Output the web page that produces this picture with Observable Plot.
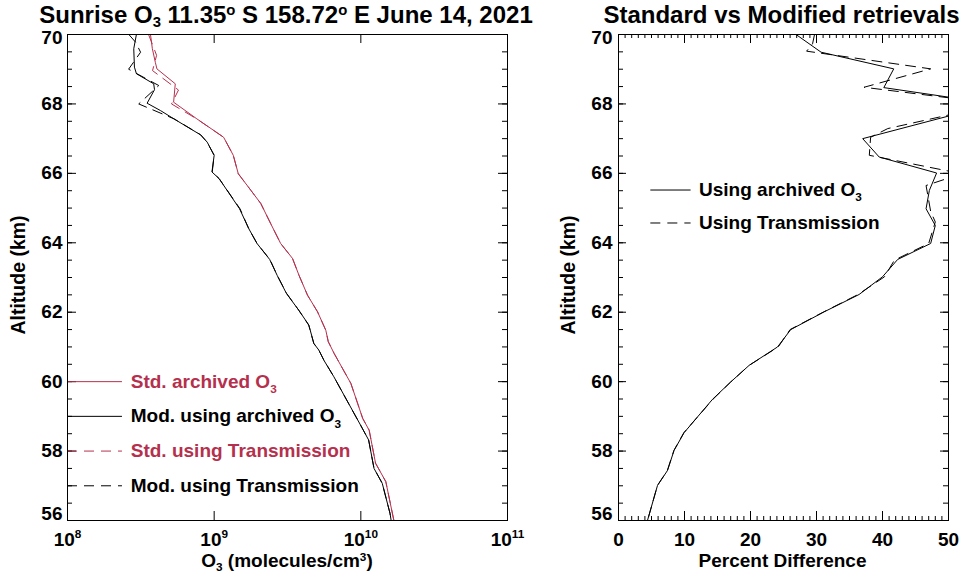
<!DOCTYPE html>
<html><head><meta charset="utf-8">
<script src="https://cdn.jsdelivr.net/npm/d3@7"></script>
<script src="https://cdn.jsdelivr.net/npm/@observablehq/plot@0.6"></script>
<style>
html,body{margin:0;padding:0;background:#fff;}
#wrap{position:relative;width:963px;height:573px;overflow:hidden;font-family:"Liberation Sans",Arial,Helvetica,sans-serif;font-weight:bold;color:#000;}
.abs{position:absolute;white-space:nowrap;line-height:1;}
.title{font-size:24px;transform:translateX(-50%);top:3px;}
.xlab{font-size:19px;transform:translateX(-50%);top:551px;}
.ylab{font-size:19.5px;transform:translate(-50%,-50%) rotate(-90deg);}
sub,sup{font-size:0.62em;line-height:0;}
sub{vertical-align:-0.3em;} sup{vertical-align:0.55em;}
#left,#right{position:absolute;top:0;}
#left{left:0}#right{left:540px}
</style></head>
<body><div id="wrap">
<div id="left"></div><div id="right"></div>
<div class="abs title" style="left:286px">Sunrise O<sub>3</sub> 11.35<sup>o</sup> S 158.72<sup>o</sup> E June 14, 2021</div>
<div class="abs title" style="left:781.5px">Standard vs Modified retrievals</div>
<div class="abs xlab" style="left:287px">O<sub>3</sub> (molecules/cm<sup>3</sup>)</div>
<div class="abs xlab" style="left:782.5px">Percent Difference</div>
<div class="abs ylab" style="left:18.5px;top:275px">Altitude (km)</div>
<div class="abs ylab" style="left:568.5px;top:275px">Altitude (km)</div>
</div>
<script>
// ---------- DATA ----------
// Left panel: O3 number density (molecules/cm^3) vs altitude (km)
const stdArchAlt = [70.0, 69.59, 69.2, 69.01, 68.58, 68.05, 67.57, 67.04, 66.52, 65.99, 65.51, 65.13, 64.55, 63.98, 63.55, 63.06, 62.49, 62.01, 61.48, 61.15, 60.81, 59.95, 58.94, 58.6, 57.65, 57.12, 56.0];
const stdArchO3  = [3.68e8, 3.79e8, 3.97e8, 4.07e8, 5.43e8, 5.29e8, 7.62e8, 1.16e9, 1.35e9, 1.46e9, 1.78e9, 2.08e9, 2.43e9, 2.84e9, 3.42e9, 3.79e9, 4.33e9, 5.07e9, 5.77e9, 6.0e9, 6.58e9, 8.55e9, 1.03e10, 1.14e10, 1.26e10, 1.48e10, 1.68e10];

const modArchAlt = [70.0, 69.59, 69.06, 68.87, 68.58, 68.41, 68.02, 67.81, 67.57, 67.11, 66.9, 66.52, 66.04, 65.85, 64.98, 64.41, 63.98, 63.52, 63.06, 62.54, 62.06, 61.63, 61.1, 60.91, 60.62, 60.14, 59.27, 58.75, 58.32, 57.5, 57.07, 56.21, 56.0];
const modArchO3  = [2.95e8, 2.83e8, 2.86e8, 2.95e8, 3.87e8, 3.92e8, 3.49e8, 4.3e8, 5.31e8, 8.07e8, 8.96e8, 1.0e9, 9.66e8, 1.08e9, 1.49e9, 1.72e9, 1.96e9, 2.39e9, 2.69e9, 3.11e9, 3.77e9, 4.42e9, 4.78e9, 5.17e9, 5.59e9, 6.55e9, 8.51e9, 9.95e9, 1.13e10, 1.23e10, 1.4e10, 1.58e10, 1.61e10];

const stdTransAlt = [70.0, 69.4, 68.96, 68.4, 68.0, 67.57, 67.04, 66.52, 65.99, 65.51, 65.13, 64.55, 63.98, 63.55, 63.06, 62.49, 62.01, 61.48, 61.15, 60.81, 59.95, 58.94, 58.6, 57.65, 57.12, 56.0];
const stdTransO3  = [3.57e8, 4.05e8, 3.8e8, 5.71e8, 5.12e8, 7.6e8, 1.16e9, 1.35e9, 1.46e9, 1.78e9, 2.08e9, 2.43e9, 2.84e9, 3.42e9, 3.79e9, 4.33e9, 5.07e9, 5.77e9, 6.0e9, 6.58e9, 8.55e9, 1.03e10, 1.14e10, 1.26e10, 1.48e10, 1.68e10];

const modTransAlt = [70.0, 69.78, 69.49, 69.0, 68.53, 68.0, 67.57, 67.11, 66.9, 66.52, 66.04, 65.85, 64.98, 64.41, 63.98, 63.52, 63.06, 62.54, 62.06, 61.63, 61.1, 60.91, 60.62, 60.14, 59.27, 58.75, 58.32, 57.5, 57.07, 56.21, 56.0];
const modTransO3  = [2.62e8, 2.91e8, 3.15e8, 2.61e8, 4.19e8, 3.06e8, 5.33e8, 8.1e8, 8.94e8, 1.0e9, 9.7e8, 1.08e9, 1.5e9, 1.72e9, 1.96e9, 2.4e9, 2.69e9, 3.12e9, 3.77e9, 4.41e9, 4.78e9, 5.17e9, 5.6e9, 6.55e9, 8.5e9, 9.95e9, 1.13e10, 1.23e10, 1.4e10, 1.58e10, 1.61e10];

// Right panel: percent difference (standard vs modified) vs altitude (km)
const pdArchAlt = [70.0, 69.49, 69.01, 68.47, 68.0, 67.0, 66.47, 66.01, 65.51, 64.98, 64.5, 63.98, 63.52, 63.02, 62.51, 62.01, 61.5, 61.0, 60.47, 59.99, 59.49, 58.53, 58.02, 57.44, 57.01, 56.0];
const pdArch    = [26.9, 30.7, 41.7, 40.2, 57.0, 37.0, 39.5, 48.2, 47.1, 46.6, 48.0, 47.3, 42.3, 40.0, 36.45, 31.15, 26.1, 24.1, 19.8, 17.0, 14.24, 9.94, 8.42, 7.42, 5.91, 4.39];

const pdTransAlt = [70.0, 69.73, 69.52, 69.01, 68.48, 68.0, 67.29, 67.04, 66.52, 65.99, 65.65, 64.9, 64.6, 63.98, 63.5, 63.02, 62.5, 62.01, 61.5, 61.0, 60.47, 59.99, 59.49, 58.53, 58.02, 57.44, 57.01, 56.0];
const pdTrans    = [29.7, 29.4, 28.5, 47.3, 37.2, 57.5, 40.8, 38.2, 38.0, 52.0, 46.6, 47.3, 48.0, 47.0, 41.8, 40.3, 36.2, 31.1, 26.0, 24.2, 19.8, 17.0, 14.3, 9.9, 8.4, 7.4, 5.9, 4.4];

// Legends and ticks
const leftLegendLabels = ["Std. archived O\u2083", "Mod. using archived O\u2083", "Std. using Transmission", "Mod. using Transmission"];
const rightLegendLabels = ["Using archived O\u2083", "Using Transmission"];
const altTicks = [56, 58, 60, 62, 64, 66, 68, 70];
const o3Ticks = [1e8, 1e9, 1e10, 1e11];
const pdTicks = [0, 10, 20, 30, 40, 50];

// ---------- STYLE ----------
const RED = "#b5304d";
const DASH = "10,7";
const FONT = "'Liberation Sans', Arial, Helvetica, sans-serif";
const H = 573, MT = 34, MB = 53;
const innerH = H - MT - MB;

const zip = (alts, vals) => alts.map((a, i) => ({alt: a, v: vals[i]}));
const supDigits = {"0":"\u2070","1":"\u00b9","2":"\u00b2","3":"\u00b3","4":"\u2074","5":"\u2075","6":"\u2076","7":"\u2077","8":"\u2078","9":"\u2079"};
const toSup = n => String(n).split("").map(c => supDigits[c]).join("");

function richify(svg, fs) {
  const ns = "http://www.w3.org/2000/svg";
  const supMap = {}, subMap = {};
  Object.entries(supDigits).forEach(([k, v]) => supMap[v] = k);
  for (let i = 0; i < 10; i++) subMap[String.fromCharCode(0x2080 + i)] = String(i);
  svg.querySelectorAll("text").forEach(t => {
    const s = t.textContent;
    if (![...s].some(c => c in supMap || c in subMap)) return;
    const runs = [];
    for (const c of s) {
      const kind = c in supMap ? "sup" : c in subMap ? "sub" : "n";
      const ch = supMap[c] ?? subMap[c] ?? c;
      if (runs.length && runs[runs.length - 1].kind === kind) runs[runs.length - 1].text += ch;
      else runs.push({kind, text: ch});
    }
    t.textContent = "";
    let shift = 0;
    for (const r of runs) {
      const ts = document.createElementNS(ns, "tspan");
      const target = r.kind === "sup" ? -0.42 * fs : r.kind === "sub" ? 0.28 * fs : 0;
      ts.setAttribute("dy", (target - shift) + "px");
      shift = target;
      if (r.kind !== "n") ts.setAttribute("font-size", (0.62 * fs) + "px");
      ts.textContent = r.text;
      t.appendChild(ts);
    }
  });
}

function frameTicks(values, dim, innerSize, major, minor, isMajor) {
  const len = isMajor ? major : minor;
  if (dim === "y") return [
    Plot.tickY(values, {y: d => d, insetRight: innerSize - len, stroke: "black"}),
    Plot.tickY(values, {y: d => d, insetLeft: innerSize - len, stroke: "black"})
  ];
  return [
    Plot.tickX(values, {x: d => d, insetTop: innerH - len, stroke: "black"}),
    Plot.tickX(values, {x: d => d, insetBottom: innerH - len, stroke: "black"})
  ];
}

// y tick labels: the end labels sit slightly inside the frame, as in the reference
function altAxis(pad) {
  const inner = altTicks.filter(d => d !== 56 && d !== 70);
  return [
    Plot.axisY({ticks: inner, tickSize: 0, tickPadding: pad, label: null}),
    Plot.axisY({ticks: [70], tickSize: 0, tickPadding: pad, label: null, dy: 3}),
    Plot.axisY({ticks: [56], tickSize: 0, tickPadding: pad, label: null, dy: -7})
  ];
}

// ---------- LEFT PANEL ----------
const W1 = 530, ML1 = 67, MR1 = 23, innerW1 = W1 - ML1 - MR1;
const altMinor = d3.range(56, 70.001, 0.5);
const leftSeries = [
  {alts: stdTransAlt, vals: stdTransO3, color: RED, dash: DASH},
  {alts: modTransAlt, vals: modTransO3, color: "black", dash: DASH},
  {alts: stdArchAlt, vals: stdArchO3, color: RED, dash: null},
  {alts: modArchAlt, vals: modArchO3, color: "black", dash: null}
];
const leftLegendStyle = [
  {color: RED, dash: null}, {color: "black", dash: null}, {color: RED, dash: DASH}, {color: "black", dash: DASH}
];
const leftLegend = leftLegendLabels.map((label, i) => ({label, alt: 60 - i, ...leftLegendStyle[i]}));

const left = Plot.plot({
  width: W1, height: H, marginLeft: ML1, marginRight: MR1, marginTop: MT, marginBottom: MB,
  x: {type: "log", domain: [1e8, 1e11]},
  y: {domain: [56, 70]},
  color: {type: "identity"},
  style: {fontFamily: FONT, fontSize: "19px", fontWeight: "bold", background: "white", color: "black", overflow: "visible"},
  marks: [
    ...frameTicks(altMinor, "y", innerW1, 9, 5, false),
    ...frameTicks(altTicks, "y", innerW1, 9, 5, true),
    ...frameTicks(o3Ticks, "x", innerW1, 9, 5, true),
    ...altAxis(5),
    Plot.axisX({ticks: o3Ticks, tickSize: 0, tickPadding: 12, label: null,
      tickFormat: d => "10" + toSup(Math.round(Math.log10(d)))}),
    ...leftSeries.map(s => Plot.line(zip(s.alts, s.vals), {x: "v", y: "alt", stroke: s.color, strokeWidth: 1, strokeDasharray: s.dash ?? undefined, clip: true})),
    ...leftLegend.map(r => Plot.ruleY([r], {y: "alt", x1: 1e8, x2: 2.37e8, stroke: r.color, strokeWidth: 1, strokeDasharray: r.dash ?? undefined})),
    Plot.text(leftLegend, {x: () => 2.7e8, y: "alt", text: "label", fill: "color", textAnchor: "start"}),
    Plot.frame({stroke: "black"})
  ]
});
richify(left, 19);
document.getElementById("left").appendChild(left);

// ---------- RIGHT PANEL ----------
const W2 = 423, ML2 = 78, MR2 = 15, innerW2 = W2 - ML2 - MR2;
const pdMinor = d3.range(0, 50.001, 1);
const rightLegend = rightLegendLabels.map((label, i) => ({label, alt: 65.52 - 0.95 * i, dash: i ? DASH : null}));

const right = Plot.plot({
  width: W2, height: H, marginLeft: ML2, marginRight: MR2, marginTop: MT, marginBottom: MB,
  x: {domain: [0, 50]},
  y: {domain: [56, 70]},
  style: {fontFamily: FONT, fontSize: "19px", fontWeight: "bold", background: "white", color: "black", overflow: "visible"},
  marks: [
    ...frameTicks(altMinor, "y", innerW2, 8, 5, false),
    ...frameTicks(altTicks, "y", innerW2, 8, 5, true),
    ...frameTicks(pdMinor, "x", innerW2, 9, 4, false),
    ...frameTicks(pdTicks, "x", innerW2, 9, 4, true),
    ...altAxis(6),
    Plot.axisX({ticks: pdTicks, tickSize: 0, tickPadding: 12, label: null}),
    Plot.line(zip(pdTransAlt, pdTrans), {x: "v", y: "alt", stroke: "black", strokeWidth: 1, strokeDasharray: DASH, clip: true}),
    Plot.line(zip(pdArchAlt, pdArch), {x: "v", y: "alt", stroke: "black", strokeWidth: 1, clip: true}),
    ...rightLegend.map(r => Plot.ruleY([r], {y: "alt", x1: 4.9, x2: 11, stroke: "black", strokeWidth: 1, strokeDasharray: r.dash ?? undefined})),
    Plot.text(rightLegend, {x: () => 12.2, y: "alt", text: "label", fill: "black", textAnchor: "start"}),
    Plot.frame({stroke: "black"})
  ]
});
richify(right, 19);
document.getElementById("right").appendChild(right);
</script>
</body></html>
